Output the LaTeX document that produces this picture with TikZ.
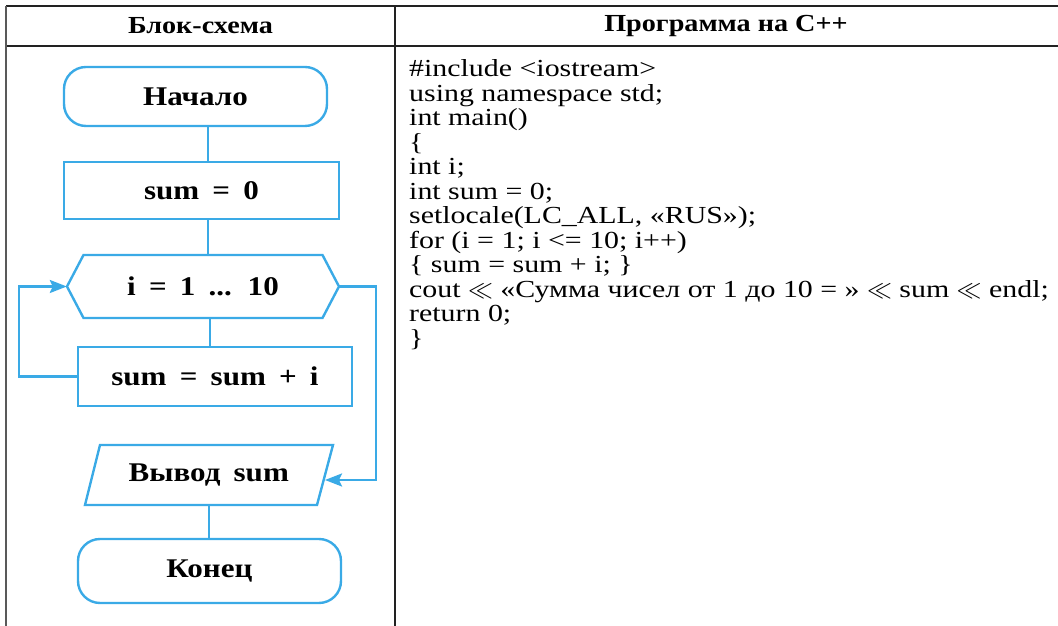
\documentclass[tikz,border=0pt]{standalone}
\usepackage{fontspec}
\setmainfont[FakeStretch=1.15]{Liberation Serif}
\newfontfamily\codefont[FakeStretch=1.22]{Liberation Serif}
\newfontfamily\fcfont[FakeStretch=1.15, WordSpace=1.7]{Liberation Serif}
\usetikzlibrary{arrows.meta,calc}
\definecolor{fcblue}{HTML}{3AAAE6}
\definecolor{rulecol}{HTML}{222222}
\begin{document}
\begin{tikzpicture}[x=1pt,y=1pt,
  tbl/.style={draw=rulecol, line width=1.6pt},
  fc/.style={draw=fcblue, line width=2.4pt},
  fctext/.style={font=\fcfont\fontsize{27}{30}\selectfont\bfseries, inner sep=0pt},
  term/.style={fc, fctext, rectangle, rounded corners=22pt, minimum width=263pt, minimum height=#1},
  proc/.style={fc, fctext, rectangle, minimum width=275pt, minimum height=57pt},
  bare/.style={fctext, rectangle, draw=none},
  hdr/.style={font=\fontsize{24.5}{28}\selectfont\bfseries, inner sep=0pt},
  code/.style={font=\codefont\fontsize{24.5}{24.5}\selectfont, anchor=base west, inner sep=0pt, text height=17pt, text depth=5pt},
  arr/.style={fc, -{Stealth[length=17pt,width=13pt,inset=3pt]}}
]
\useasboundingbox (0,0) rectangle (1058,626);
% table
\draw[tbl] (6,620) -- (1058,620);
\draw[tbl] (6,580) -- (1058,580);
\draw[tbl, draw=black!65] (6,620) -- (6,0);
\draw[tbl] (395,620) -- (395,0);
\node[hdr] (h1) at (200.5,600) {Блок-схема};
\node[hdr] (h2) at (726,600) {Программа на С++};

% flowchart
\coordinate (cx) at (208,0);
\coordinate (cx2) at (210,0);
\coordinate (cx3) at (209,0);
\coordinate (lf) at (19,0);
\coordinate (rt) at (376,0);

\node[term=59pt] (start) at (195.5,529.5) {Начало};
\node[proc] (sum0) at (201.5,435.5) {sum = 0};
\node[bare, minimum width=272pt, minimum height=63pt] (hex) at (203,339.5) {i = 1 ... 10};
\draw[fc, line join=miter] ($(hex.center)+(-136,0)$) -- ($(hex.center)+(-119.5,31.5)$) -- ($(hex.center)+(119.5,31.5)$)
  -- ($(hex.center)+(136,0)$) -- ($(hex.center)+(119.5,-31.5)$) -- ($(hex.center)+(-119.5,-31.5)$) -- cycle;
\node[proc, minimum width=274pt, minimum height=59pt] (body) at (215,249.5) {sum = sum + i};
\node[bare, minimum width=233pt, minimum height=60pt] (out) at (208.75,151) {Вывод sum};
\draw[fc, line join=miter] ($(out.center)+(-123.75,-30)$) -- ($(out.center)+(108.25,-30)$) -- ($(out.center)+(124.25,30)$)
  -- ($(out.center)+(-108.75,30)$) -- cycle;
\node[term=64pt] (end) at (209.5,55) {Конец};
\coordinate (outR) at (325,146);

\draw[fc] (start.south -| cx) -- (sum0.north -| cx);
\draw[fc] (sum0.south -| cx) -- (hex.north -| cx);
\draw[fc] (hex.south -| cx2) -- (body.north -| cx2);
\draw[fc] (out.south -| cx3) -- (end.north -| cx3);
\draw[arr] (body.west) -- (body.west -| lf) |- (hex.west);
\draw[arr] (hex.east) -- (hex.east -| rt) |- (outR);

% code
\node[code] (c1) at (409,549) {\#include <iostream>};
\node[code] (c2) at (409,524.5) {using namespace std;};
\node[code] (c3) at (409,500) {int main()};
\node[code] (c4) at (409,475.5) {\{};
\node[code] (c5) at (409,451) {int i;};
\node[code] (c6) at (409,426.5) {int sum = 0;};
\node[code] (c7) at (409,402) {setlocale(LC\_ALL, «RUS»);};
\node[code] (c8) at (409,377.5) {for (i = 1; i <= 10; i++)};
\node[code] (c9) at (409,353) {\{ sum = sum + i; \}};
\node[code] (c10) at (409,328.5) {cout $\ll$ «Сумма чисел от 1 до 10 = » $\ll$ sum $\ll$ endl;};
\node[code] (c11) at (409,304) {return 0;};
\node[code] (c12) at (409,279.5) {\}};
\end{tikzpicture}
\end{document}
